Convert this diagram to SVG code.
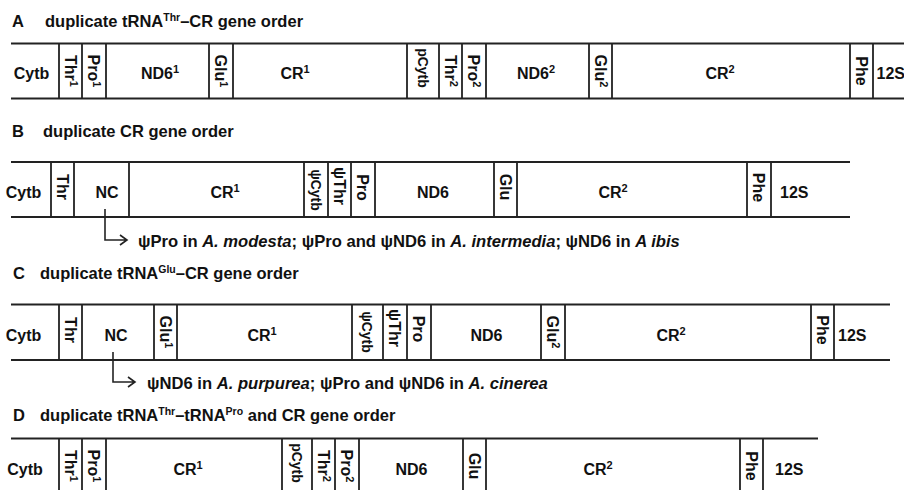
<svg xmlns="http://www.w3.org/2000/svg" width="904" height="490" viewBox="0 0 904 490">
<style>
text{font-family:"Liberation Sans",Arial,sans-serif;font-weight:bold;fill:#111}
.t{font-size:16.5px}
.sup{font-size:10.5px}
.s{font-size:11px}
.l{font-size:16px;text-anchor:middle}
.v{font-size:16px;text-anchor:middle}
.vs{font-size:14px;text-anchor:middle}
.n{font-size:16px}
.note{font-size:16.6px}
.track{stroke:#222;stroke-width:2.2;fill:none}
.div{stroke:#222;stroke-width:1.8;fill:none}
.conn{stroke:#222;stroke-width:1.6;fill:none}
</style>
<rect width="904" height="490" fill="#fff"/>

<!-- Row A -->
<g id="rowA">
<text class="t" x="12" y="27">A</text>
<text class="t" x="45" y="27">duplicate tRNA<tspan class="sup" dy="-6">Thr</tspan><tspan dy="6">–CR gene order</tspan></text>
<path class="track" d="M11 43.5H906M11 98.5H906"/>
<path class="div" d="M59 43.5V98.5M82 43.5V98.5M106 43.5V98.5M209 43.5V98.5M233 43.5V98.5M407 43.5V98.5M439 43.5V98.5M462 43.5V98.5M486 43.5V98.5M589 43.5V98.5M612 43.5V98.5M850 43.5V98.5M873 43.5V98.5"/>
<g id="A-Cytb"><text class="l" x="31.5" y="79">Cytb</text></g>
<g id="A-Thr1"><text class="v" transform="translate(70.5 71) rotate(90)" y="5.7">Thr<tspan class="s" dy="-5">1</tspan></text></g>
<g id="A-Pro1"><text class="v" transform="translate(94 71) rotate(90)" y="5.7">Pro<tspan class="s" dy="-5">1</tspan></text></g>
<g id="A-ND6-1"><text class="l" x="160" y="79">ND6<tspan class="s" dy="-6">1</tspan></text></g>
<g id="A-Glu1"><text class="v" transform="translate(221 71) rotate(90)" y="5.7">Glu<tspan class="s" dy="-5">1</tspan></text></g>
<g id="A-CR1"><text class="l" x="295" y="79">CR<tspan class="s" dy="-6">1</tspan></text></g>
<g id="A-pCytb"><text class="vs" transform="translate(423 68) rotate(90)" y="5">pCytb</text></g>
<g id="A-Thr2"><text class="v" transform="translate(450.5 71) rotate(90)" y="5.7">Thr<tspan class="s" dy="-5">2</tspan></text></g>
<g id="A-Pro2"><text class="v" transform="translate(474 71) rotate(90)" y="5.7">Pro<tspan class="s" dy="-5">2</tspan></text></g>
<g id="A-ND6-2"><text class="l" x="536" y="79">ND6<tspan class="s" dy="-6">2</tspan></text></g>
<g id="A-Glu2"><text class="v" transform="translate(600.5 71) rotate(90)" y="5.7">Glu<tspan class="s" dy="-5">2</tspan></text></g>
<g id="A-CR2"><text class="l" x="720" y="79">CR<tspan class="s" dy="-6">2</tspan></text></g>
<g id="A-Phe"><text class="v" transform="translate(861.5 71) rotate(90)" y="5.7">Phe</text></g>
<g id="A-12S"><text class="n" x="876.5" y="79">12S</text></g>
</g>

<!-- Row B -->
<g id="rowB">
<text class="t" x="12" y="137">B</text>
<text class="t" x="43" y="137">duplicate CR gene order</text>
<path class="track" d="M11 162H850M11 217H850"/>
<path class="div" d="M51 162V217M74 162V217M129 162V217M304 162V217M328 162V217M351 162V217M375 162V217M494 162V217M517 162V217M747 162V217M771 162V217"/>
<g id="B-Cytb"><text class="l" x="23.5" y="198">Cytb</text></g>
<g id="B-Thr"><text class="v" transform="translate(62.5 187) rotate(90)" y="5.7">Thr</text></g>
<g id="B-NC"><text class="l" x="107" y="198">NC</text></g>
<g id="B-CR1"><text class="l" x="225" y="198">CR<tspan class="s" dy="-6">1</tspan></text></g>
<g id="B-pCytb"><text class="vs" transform="translate(316 190) rotate(90)" y="5">ψCytb</text></g>
<g id="B-pThr"><text class="v" transform="translate(339.5 186) rotate(90)" y="5.7">ψThr</text></g>
<g id="B-Pro"><text class="v" transform="translate(363 187.5) rotate(90)" y="5.7">Pro</text></g>
<g id="B-ND6"><text class="l" x="433" y="198">ND6</text></g>
<g id="B-Glu"><text class="v" transform="translate(505.5 187) rotate(90)" y="5.7">Glu</text></g>
<g id="B-CR2"><text class="l" x="613" y="198">CR<tspan class="s" dy="-6">2</tspan></text></g>
<g id="B-Phe"><text class="v" transform="translate(759 187.5) rotate(90)" y="5.7">Phe</text></g>
<g id="B-12S"><text class="n" x="780" y="198">12S</text></g>
<g id="B-note"><text class="note" x="138" y="247">ψPro in <tspan font-style="italic">A. modesta</tspan>; ψPro and ψND6 in <tspan font-style="italic">A. intermedia</tspan>; ψND6 in <tspan font-style="italic">A ibis</tspan></text></g>
</g>

<!-- Row C -->
<g id="rowC">
<text class="t" x="13" y="279">C</text>
<text class="t" x="40" y="279">duplicate tRNA<tspan class="sup" dy="-6">Glu</tspan><tspan dy="6">–CR gene order</tspan></text>
<path class="track" d="M11 304.5H890M11 360H890"/>
<path class="div" d="M59 304.5V360M82 304.5V360M154 304.5V360M177 304.5V360M352 304.5V360M383 304.5V360M407 304.5V360M431 304.5V360M541 304.5V360M565 304.5V360M811 304.5V360M834 304.5V360"/>
<g id="C-Cytb"><text class="l" x="23.5" y="341">Cytb</text></g>
<g id="C-Thr"><text class="v" transform="translate(70.5 330) rotate(90)" y="5.7">Thr</text></g>
<g id="C-NC"><text class="l" x="116" y="341">NC</text></g>
<g id="C-Glu1"><text class="v" transform="translate(165.5 332) rotate(90)" y="5.7">Glu<tspan class="s" dy="-5">1</tspan></text></g>
<g id="C-CR1"><text class="l" x="262" y="341">CR<tspan class="s" dy="-6">1</tspan></text></g>
<g id="C-pCytb"><text class="vs" transform="translate(367 332) rotate(90)" y="5">ψCytb</text></g>
<g id="C-pThr"><text class="v" transform="translate(395 328) rotate(90)" y="5.7">ψThr</text></g>
<g id="C-Pro"><text class="v" transform="translate(419 329) rotate(90)" y="5.7">Pro</text></g>
<g id="C-ND6"><text class="l" x="486.5" y="341">ND6</text></g>
<g id="C-Glu2"><text class="v" transform="translate(553 332) rotate(90)" y="5.7">Glu<tspan class="s" dy="-5">2</tspan></text></g>
<g id="C-CR2"><text class="l" x="671" y="341">CR<tspan class="s" dy="-6">2</tspan></text></g>
<g id="C-Phe"><text class="v" transform="translate(822.5 330) rotate(90)" y="5.7">Phe</text></g>
<g id="C-12S"><text class="n" x="838" y="341">12S</text></g>
<g id="C-note"><text class="note" x="147" y="389">ψND6 in <tspan font-style="italic">A. purpurea</tspan>; ψPro and ψND6 in <tspan font-style="italic">A. cinerea</tspan></text></g>
</g>

<!-- Row D -->
<g id="rowD">
<text class="t" x="13" y="421">D</text>
<text class="t" x="40" y="421">duplicate tRNA<tspan class="sup" dy="-6">Thr</tspan><tspan dy="6">–tRNA</tspan><tspan class="sup" dy="-6">Pro</tspan><tspan dy="6"> and CR gene order</tspan></text>
<path class="track" d="M11 438.5H818M11 494H818"/>
<path class="div" d="M59 438.5V494M82 438.5V494M106 438.5V494M282 438.5V494M312 438.5V494M335 438.5V494M359 438.5V494M463 438.5V494M486 438.5V494M740 438.5V494M763 438.5V494"/>
<g id="D-Cytb"><text class="l" x="25" y="475">Cytb</text></g>
<g id="D-Thr1"><text class="v" transform="translate(70.5 466) rotate(90)" y="5.7">Thr<tspan class="s" dy="-5">1</tspan></text></g>
<g id="D-Pro1"><text class="v" transform="translate(94 466) rotate(90)" y="5.7">Pro<tspan class="s" dy="-5">1</tspan></text></g>
<g id="D-CR1"><text class="l" x="188" y="475">CR<tspan class="s" dy="-6">1</tspan></text></g>
<g id="D-pCytb"><text class="vs" transform="translate(297 463) rotate(90)" y="5">pCytb</text></g>
<g id="D-Thr2"><text class="v" transform="translate(323.5 466) rotate(90)" y="5.7">Thr<tspan class="s" dy="-5">2</tspan></text></g>
<g id="D-Pro2"><text class="v" transform="translate(347 466) rotate(90)" y="5.7">Pro<tspan class="s" dy="-5">2</tspan></text></g>
<g id="D-ND6"><text class="l" x="411.5" y="475">ND6</text></g>
<g id="D-Glu"><text class="v" transform="translate(474.5 466) rotate(90)" y="5.7">Glu</text></g>
<g id="D-CR2"><text class="l" x="598" y="475">CR<tspan class="s" dy="-6">2</tspan></text></g>
<g id="D-Phe"><text class="v" transform="translate(751.5 466) rotate(90)" y="5.7">Phe</text></g>
<g id="D-12S"><text class="n" x="775" y="475">12S</text></g>
</g>

<g id="connectors">
<path class="conn" d="M105 209V240H126M120 235L127 240L120 245"/>
<path class="conn" d="M113 352V382H134M128 377L135 382L128 387"/>
</g>
</svg>
